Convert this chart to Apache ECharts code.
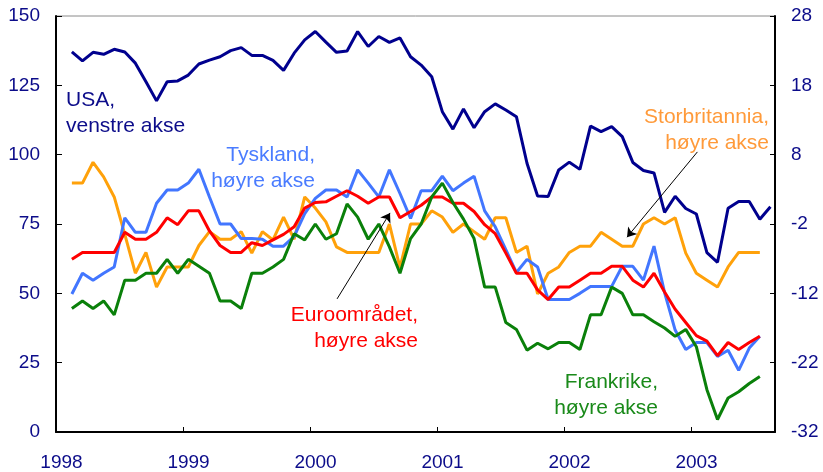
<!DOCTYPE html>
<html>
<head>
<meta charset="utf-8">
<script src="https://cdn.jsdelivr.net/npm/echarts@6/dist/echarts.min.js"></script>
<style>
  html, body { margin: 0; padding: 0; background: #fff; }
  #chart { width: 823px; height: 472px; }
</style>
</head>
<body>
<div id="chart"></div>
<script>
// månedsdata, første observasjon februar 1998
var startYear = 1998;
var startMonth = 2;

// USA, venstre akse (en måned lenger enn de andre)
var usa = [137.1, 133.8, 136.9, 136.2, 138.0, 137.0, 133.0, 126.3, 119.4, 126.3, 126.6, 128.7,
  132.7, 134.1, 135.3, 137.5, 138.6, 135.8, 135.8, 134.0, 130.4, 136.6, 141.4, 144.4,
  140.6, 136.9, 137.4, 144.4, 139.0, 142.6, 140.5, 142.1, 135.3, 132.3, 128.1, 115.5,
  109.2, 116.5, 109.7, 115.5, 118.3, 116.1, 113.7, 96.9, 85.1, 84.9, 94.5, 97.3,
  94.7, 110.3, 108.3, 110.1, 106.5, 97.2, 94.3, 93.4, 79.2, 85.0, 80.6, 78.6,
  64.7, 61.2, 80.7, 83.1, 83.1, 76.7, 81.2];

// høyre akse
var tyskland = [-12.1, -9.1, -10.1, -9.1, -8.2, -1.1, -3.2, -3.2, 1.0, 2.9, 2.9, 3.9,
  5.9, 1.9, -2.0, -2.0, -4.1, -4.1, -4.2, -5.2, -5.2, -3.8, -0.5, 1.7,
  2.9, 2.9, 1.9, 5.8, 3.9, 1.9, 5.8, 2.4, -1.2, 2.8, 2.8, 4.9,
  2.8, 3.9, 4.9, -0.1, -2.4, -5.7, -9.0, -7.1, -8.2, -12.9, -12.9, -12.9,
  -12.0, -11.0, -11.0, -11.0, -8.1, -8.1, -10.1, -5.2, -11.9, -17.3, -20.1, -19.1,
  -19.1, -21.1, -20.2, -23.1, -19.9, -18.2];

var euroomradet = [-7.1, -6.1, -6.1, -6.1, -6.1, -3.2, -4.2, -4.2, -3.2, -1.1, -2.1, -0.1,
  -0.1, -3.0, -5.1, -6.1, -6.1, -4.7, -5.1, -4.3, -3.5, -2.4, 0.3, 1.1,
  1.2, 2.0, 2.8, 2.0, 1.0, 1.9, 1.9, -1.1, -0.2, 0.7, 1.9, 1.9,
  1.0, 1.0, -0.2, -2.1, -3.4, -6.2, -9.1, -9.1, -11.5, -12.9, -11.1, -11.1,
  -10.1, -9.1, -9.1, -8.1, -8.1, -10.1, -11.1, -9.1, -11.8, -14.3, -16.2, -18.1,
  -18.9, -21.0, -19.1, -20.1, -19.1, -18.2];

var storbritannia = [3.9, 3.9, 6.9, 4.8, 1.9, -3.5, -9.1, -6.1, -11.1, -8.2, -8.2, -8.2,
  -5.1, -3.1, -4.2, -4.2, -3.1, -6.2, -3.1, -4.3, -1.0, -4.2, 1.9, 0.3,
  -1.7, -5.3, -6.1, -6.1, -6.1, -6.1, -2.0, -8.3, -2.0, -2.0, -0.1, -1.0,
  -3.2, -2.0, -3.1, -4.2, -1.1, -1.1, -6.1, -5.2, -12.1, -9.1, -8.2, -6.1,
  -5.2, -5.2, -3.2, -4.2, -5.2, -5.2, -2.0, -1.1, -2.0, -1.1, -6.2, -9.1,
  -10.1, -11.1, -8.2, -6.1, -6.1, -6.1];

var frankrike = [-14.2, -13.1, -14.2, -13.1, -15.1, -10.1, -10.1, -9.1, -9.1, -7.1, -9.1, -7.1,
  -8.1, -9.1, -13.1, -13.1, -14.2, -9.1, -9.1, -8.2, -7.1, -3.4, -4.3, -2.0,
  -4.2, -3.4, 0.9, -1.0, -4.2, -2.0, -5.3, -9.1, -4.1, -2.0, 1.9, 3.9,
  1.1, -1.3, -4.1, -11.1, -11.1, -16.2, -17.2, -20.2, -19.2, -20.0, -19.1, -19.1,
  -20.1, -15.1, -15.1, -11.1, -12.0, -15.1, -15.1, -16.1, -17.0, -18.2, -17.2, -19.7,
  -25.9, -30.2, -27.1, -26.2, -25.0, -24.0];

var yearTicks = [1998, 1999, 2000, 2001, 2002, 2003];
var leftTicks = [0, 25, 50, 75, 100, 125, 150];
var rightTicks = [-32, -22, -12, -2, 8, 18, 28];

var NAVY = '#0c0c8a';

// midt i måneden
function monthPos(i) {
    var m = startMonth - 1 + i;
    return startYear + Math.floor(m / 12) + ((m % 12) + 0.5) / 12;
}

function toPairs(values) {
    return values.map(function (v, i) { return [monthPos(i), v]; });
}

function line(name, values, color, axis, extra) {
    var s = {
        name: name,
        type: 'line',
        yAxisIndex: axis,
        data: toPairs(values),
        showSymbol: false,
        lineStyle: { color: color, width: 3 },
        itemStyle: { color: color },
        z: 2
    };
    return Object.assign(s, extra || {});
}

function arrow(from, to) {
    return {
        silent: true,
        symbol: ['none', 'arrow'],
        symbolSize: 9,
        lineStyle: { color: '#000', width: 1, type: 'solid' },
        itemStyle: { color: '#000' },
        label: { show: false },
        emphasis: { disabled: true },
        data: [[{ coord: from }, { coord: to }]]
    };
}

function note(text, x, y, color, align) {
    return {
        type: 'text',
        x: x,
        y: y,
        silent: true,
        z: 10,
        style: {
            text: text,
            fill: color,
            font: '21px "Liberation Sans", Arial, sans-serif',
            align: align,
            verticalAlign: 'middle',
            lineHeight: 26
        }
    };
}

var chart = echarts.init(document.getElementById('chart'), null, { renderer: 'canvas' });

var option = {
    animation: false,
    backgroundColor: '#fff',
    grid: {
        left: 56, right: 48, top: 16, bottom: 40,
        show: true, borderColor: '#8a8a8a', borderWidth: 1
    },
    xAxis: {
        type: 'value',
        min: yearTicks[0],
        max: 2003.661,
        interval: 1,
        axisLine: { onZero: false, lineStyle: { color: '#000', width: 2 } },
        axisTick: { inside: true, length: 5, lineStyle: { color: '#000', width: 1 } },
        splitLine: { show: false },
        axisLabel: {
            color: NAVY,
            fontSize: 19,
            fontFamily: '"Liberation Sans", Arial, sans-serif',
            margin: 21,
            padding: [0, 0, 0, 11],
            showMaxLabel: false,
            formatter: function (v) {
                return yearTicks.indexOf(Math.round(v * 1000) / 1000) >= 0 ? String(v) : '';
            }
        }
    },
    yAxis: [{
        type: 'value',
        position: 'left',
        min: leftTicks[0],
        max: leftTicks[leftTicks.length - 1],
        interval: 25,
        axisLine: { show: true, onZero: false, lineStyle: { color: '#000', width: 2 } },
        axisTick: { show: true, inside: true, length: 6, lineStyle: { color: '#000', width: 1 } },
        splitLine: { show: false },
        axisLabel: {
            color: NAVY, fontSize: 19, margin: 16,
            fontFamily: '"Liberation Sans", Arial, sans-serif'
        }
    }, {
        type: 'value',
        position: 'right',
        min: rightTicks[0],
        max: rightTicks[rightTicks.length - 1],
        interval: 10,
        axisLine: { show: true, onZero: false, lineStyle: { color: '#000', width: 2 } },
        axisTick: { show: true, inside: true, length: 5, lineStyle: { color: '#000', width: 1 } },
        splitLine: { show: false },
        axisLabel: {
            color: NAVY, fontSize: 19, margin: 16,
            fontFamily: '"Liberation Sans", Arial, sans-serif'
        }
    }],
    series: [
        line('Storbritannia', storbritannia, '#ffa10a', 1, {
            markLine: arrow([2003.05, 8.4], [2002.496, -3.9])
        }),
        line('Tyskland', tyskland, '#4276ff', 1),
        line('Euroområdet', euroomradet, '#ff0000', 1, {
            markLine: arrow([2000.213, -12.8], [2000.63, -0.4])
        }),
        line('Frankrike', frankrike, '#0a800a', 1),
        line('USA', usa, '#00008e', 0)
    ],
    graphic: [
        note('USA,\nvenstre akse', 66, 113, NAVY, 'left'),
        note('Tyskland,\nhøyre akse', 315, 168.5, '#4a7cff', 'right'),
        note('Storbritannia,\nhøyre akse', 769, 130, '#ff9a3a', 'right'),
        note('Euroområdet,\nhøyre akse', 418, 328.5, '#ff0000', 'right'),
        note('Frankrike,\nhøyre akse', 658, 395.5, '#1a8a1a', 'right')
    ]
};

chart.setOption(option);
</script>
</body>
</html>
